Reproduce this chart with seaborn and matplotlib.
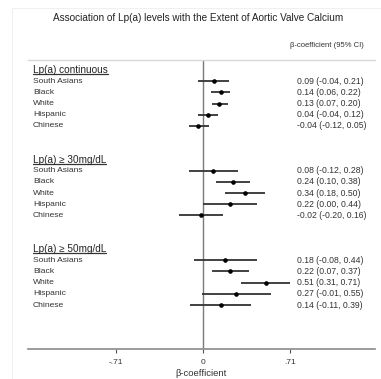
import numpy as np
import matplotlib
matplotlib.use("Agg")
import matplotlib.pyplot as plt
import pandas as pd
import seaborn as sns

groups = ["Lp(a) continuous", "Lp(a) \u2265 30mg/dL", "Lp(a) \u2265 50mg/dL"]
ethnicities = ["South Asians", "Black", "White", "Hispanic", "Chinese"]

est = [0.09, 0.14, 0.13, 0.04, -0.04,
       0.08, 0.24, 0.34, 0.22, -0.02,
       0.18, 0.22, 0.51, 0.27, 0.14]
lo = [-0.04, 0.06, 0.07, -0.04, -0.12,
      -0.12, 0.10, 0.18, 0.00, -0.20,
      -0.08, 0.07, 0.31, -0.01, -0.11]
hi = [0.21, 0.22, 0.20, 0.12, 0.05,
      0.28, 0.38, 0.50, 0.44, 0.16,
      0.44, 0.37, 0.71, 0.55, 0.39]

xticks = [-0.71, 0, 0.71]
xticklabels = ["-.71", "0", ".71"]

# row layout: header, 5 rows, 2 blank rows
rows = []
header_y = []
for g_i, g in enumerate(groups):
    base = g_i * 8
    header_y.append(base)
    for e_i, e in enumerate(ethnicities):
        k = g_i * 5 + e_i
        rows.append([g, e, est[k], lo[k], hi[k], base + 1 + e_i])
df = pd.DataFrame(rows, columns=["group", "ethnicity", "est", "lo", "hi", "y"])

sns.set_style("white")
plt.rcParams["font.family"] = ["Liberation Sans", "DejaVu Sans"]

fig = plt.figure(figsize=(3.81, 3.79), dpi=100)
ax = fig.add_axes([28 / 381, 1 - 349 / 379, (375 - 28) / 381, (349 - 60) / 379])

# faint border of the original screenshot
fig.patches.append(plt.Rectangle((12 / 381, -0.1), 1.2, 1.1 - 8 / 379, transform=fig.transFigure,
                                 fill=False, edgecolor="#f0f0f0", lw=0.8))

ax.axvline(0, color="#7a7a7a", lw=1.0, zorder=1)
ax.hlines(df["y"], df["lo"], df["hi"], color="#333333", lw=1.3, zorder=2)
sns.scatterplot(data=df, x="est", y="y", ax=ax, color="black", s=11,
                edgecolor="black", linewidth=0, zorder=3, legend=False)

ax.set_xlim(-1.43, 1.40)
ax.set_ylim(24.93, -0.89)

label_x = -1.39
txt_x = 0.76
for g, hy in zip(groups, header_y):
    ax.text(label_x, hy, g, fontsize=7.2, va="center", ha="left", color="#222222")
for _, r in df.iterrows():
    ax.text(label_x, r["y"], r["ethnicity"], fontsize=6.1, va="center", ha="left", color="#333333")
    ax.text(txt_x, r["y"], f"{r['est']:.2f} ({r['lo']:.2f}, {r['hi']:.2f})",
            fontsize=6.2, va="center", ha="left", color="#333333")

# underline headers
fig.canvas.draw()
inv = ax.transData.inverted()
for t in ax.texts[:3]:
    bb = t.get_window_extent()
    x0, y0 = inv.transform((bb.x0, bb.y0 + 1.0))
    x1, _ = inv.transform((bb.x1, bb.y0 + 1.0))
    ax.plot([x0, x1], [y0, y0], color="#333333", lw=0.9)

ax.text(1.31, -2.23, "\u03b2-coefficient (95% CI)", fontsize=5.5, ha="right", va="center",
        color="#333333", clip_on=False)
fig.text(198 / 381, 1 - 18 / 379,
         "Association of Lp(a) levels with the Extent of Aortic Valve Calcium",
         fontsize=7.2, ha="center", va="center", color="#222222")

for s in ["left", "right"]:
    ax.spines[s].set_visible(False)
ax.spines["top"].set_color("#d8d8d8")
ax.spines["top"].set_linewidth(1.0)
ax.spines["bottom"].set_color("#8a8a8a")
ax.spines["bottom"].set_linewidth(1.2)

ax.set_yticks([])
ax.set_xticks(xticks)
ax.set_xticklabels(xticklabels, fontsize=6, color="#333333")
ax.tick_params(axis="x", direction="out", length=3, width=0.8, color="#555555", pad=4,
               bottom=True)
ax.set_xlabel("\u03b2-coefficient", fontsize=6.8, color="#333333", labelpad=2)
ax.set_ylabel("")

fig.savefig("out.png", dpi=100)
